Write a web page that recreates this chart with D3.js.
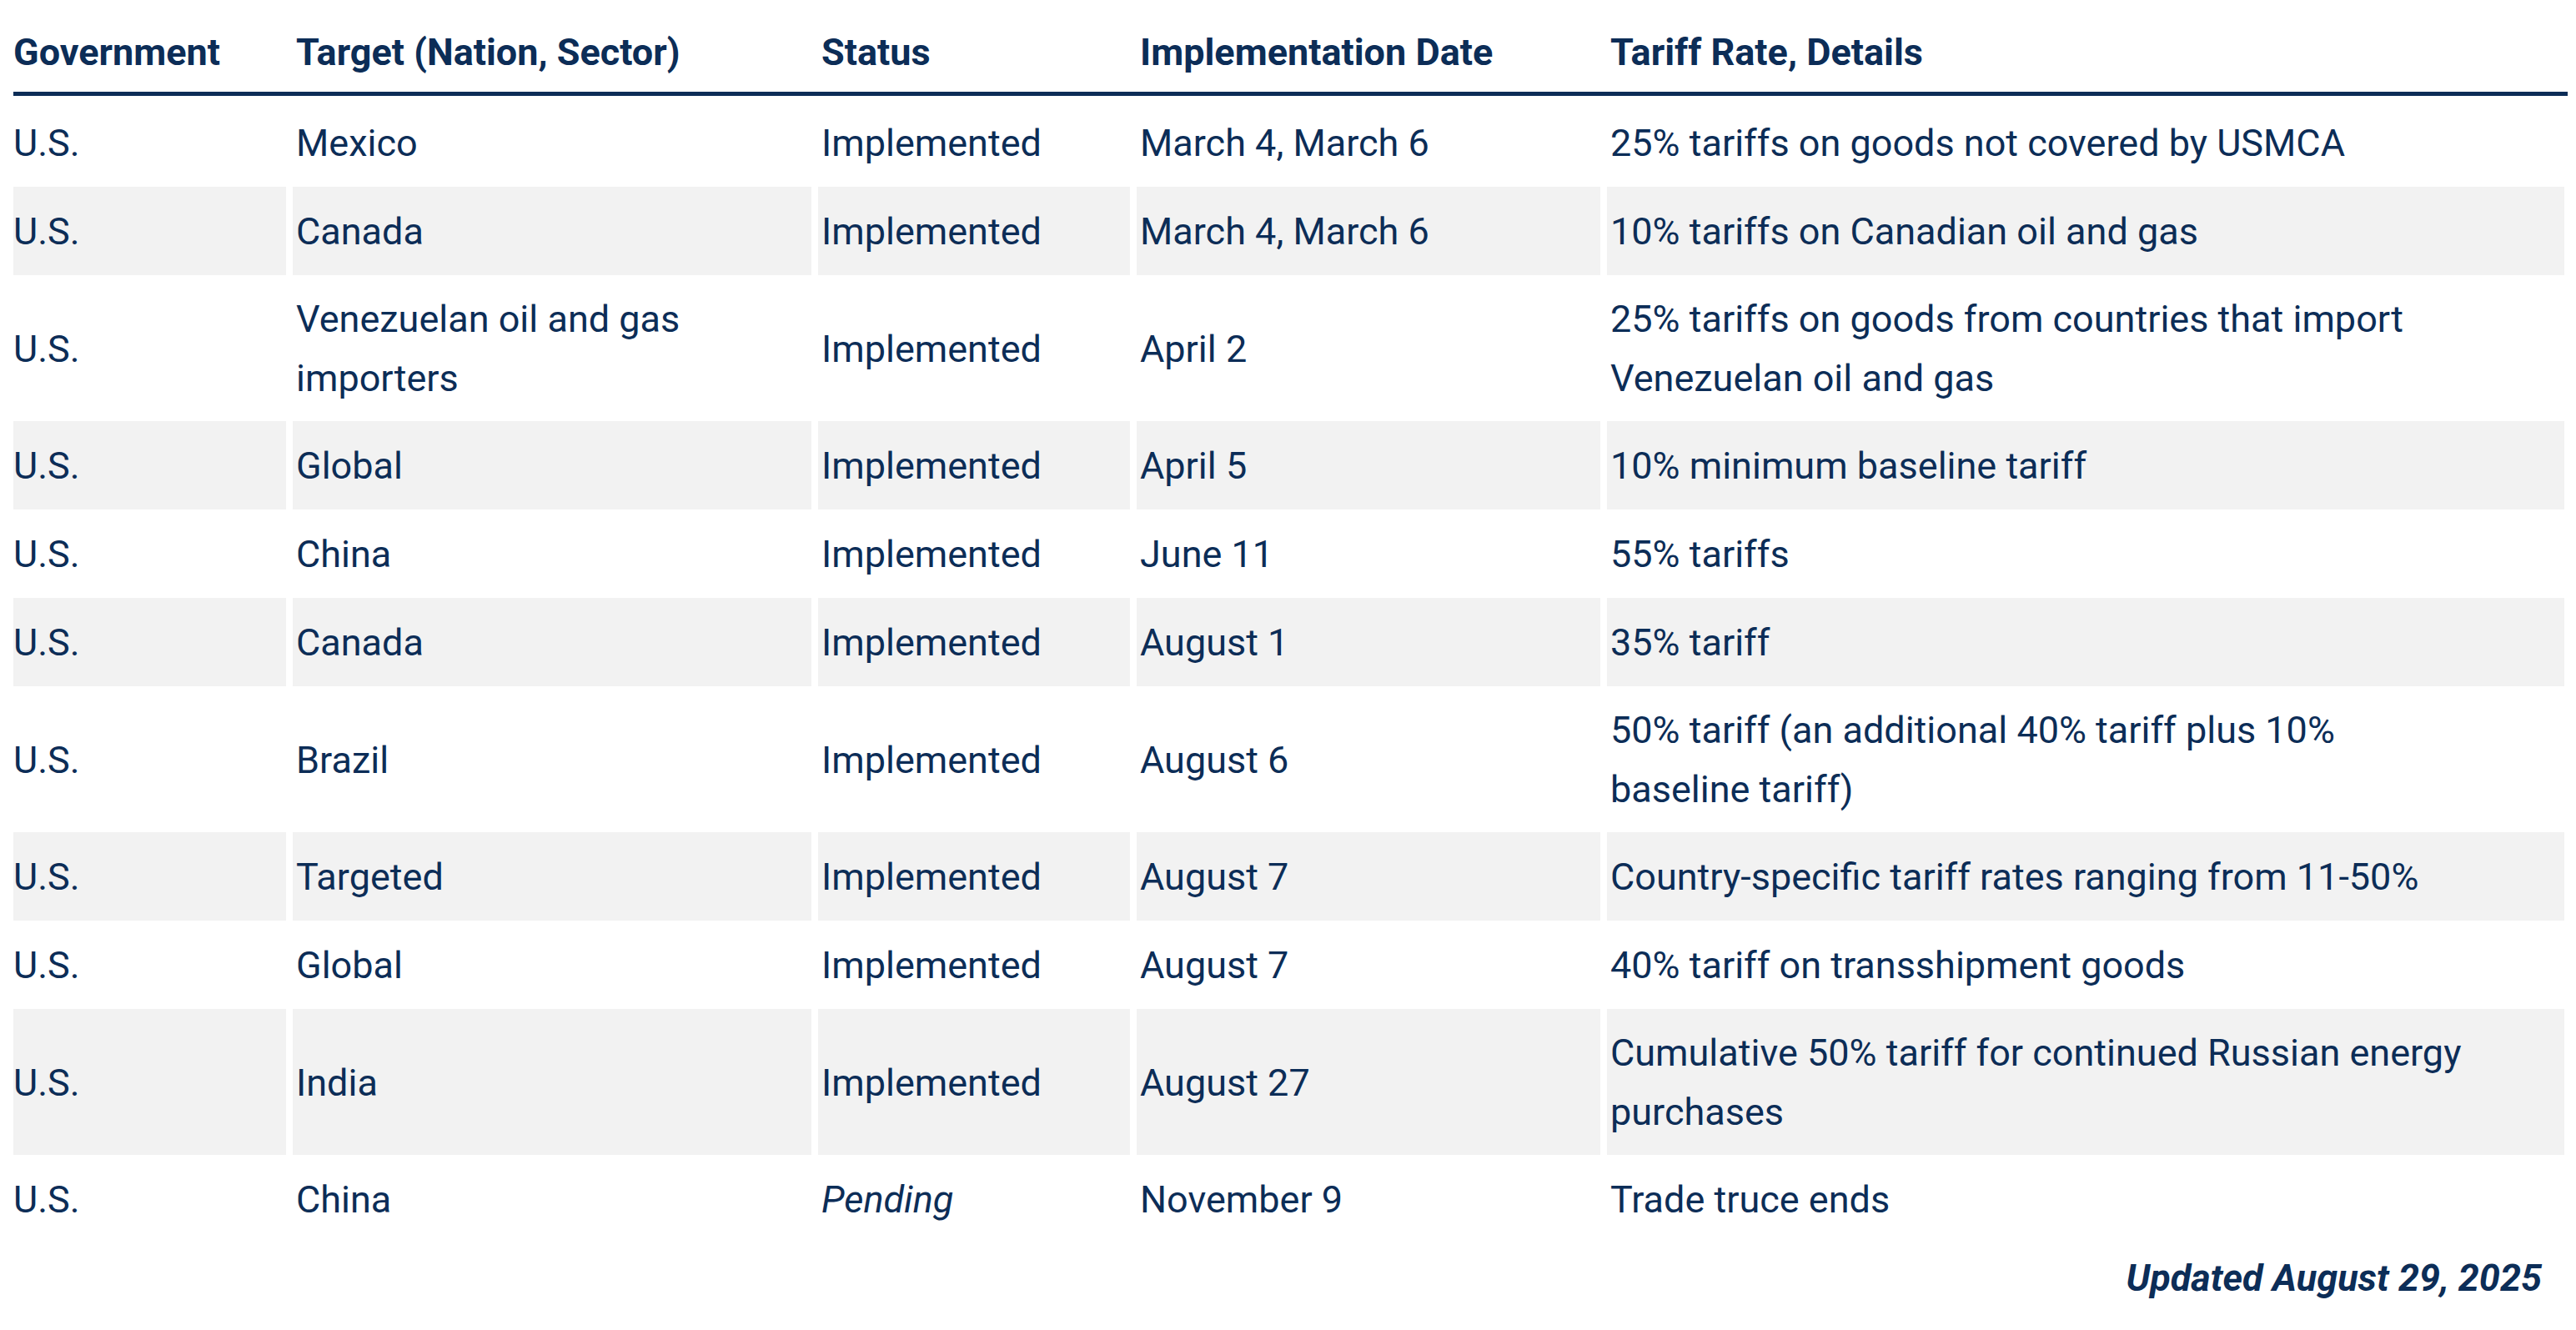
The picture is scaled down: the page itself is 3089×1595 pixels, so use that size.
<!DOCTYPE html>
<html>
<head>
<meta charset="utf-8">
<script src="https://cdn.jsdelivr.net/npm/d3@7"></script>
<style>
  body { margin: 0; background: #fff; }
  text { font-family: Roboto, "Noto Sans", sans-serif; }
</style>
</head>
<body>
<svg id="chart"></svg>
<script>
// table contents
var headers = ["Government", "Target (Nation, Sector)", "Status", "Implementation Date", "Tariff Rate, Details"];
var governments = ["U.S.", "U.S.", "U.S.", "U.S.", "U.S.", "U.S.", "U.S.", "U.S.", "U.S.", "U.S.", "U.S."];
var targets = [["Mexico"], ["Canada"], ["Venezuelan oil and gas", "importers"], ["Global"], ["China"], ["Canada"],
               ["Brazil"], ["Targeted"], ["Global"], ["India"], ["China"]];
var statuses = ["Implemented", "Implemented", "Implemented", "Implemented", "Implemented", "Implemented",
                "Implemented", "Implemented", "Implemented", "Implemented", "Pending"];
var dates = ["March 4, March 6", "March 4, March 6", "April 2", "April 5", "June 11", "August 1",
             "August 6", "August 7", "August 7", "August 27", "November 9"];
var details = [["25% tariffs on goods not covered by USMCA"],
               ["10% tariffs on Canadian oil and gas"],
               ["25% tariffs on goods from countries that import", "Venezuelan oil and gas"],
               ["10% minimum baseline tariff"],
               ["55% tariffs"],
               ["35% tariff"],
               ["50% tariff (an additional 40% tariff plus 10%", "baseline tariff)"],
               ["Country-specific tariff rates ranging from 11-50%"],
               ["40% tariff on transshipment goods"],
               ["Cumulative 50% tariff for continued Russian energy", "purchases"],
               ["Trade truce ends"]];
var footnote = "Updated August 29, 2025";

var W = 3089, H = 1595;
var navy = "#0c2d57";
var svg = d3.select("#chart").attr("width", W).attr("height", H);

var colEdges = [16, 347, 977, 1359, 1923, 3079];
var gap = 8;
var fontSize = 45;

// row layout from line counts
var rows = governments.map(function(g, i){
    var lines = Math.max(targets[i].length, details[i].length);
    return {
        cells: [[g], targets[i], [statuses[i]], [dates[i]], details[i]],
        lines: lines,
        italic: statuses[i] === "Pending"
    };
});
var y0 = 118;
rows.forEach(function(r){
    r.h = r.lines > 1 ? 175 : 106;
    r.y = y0;
    y0 += r.h;
});

// header
var hdr = svg.append("g");
hdr.selectAll("text").data(headers).enter().append("text")
    .attr("x", function(d, i){ return colEdges[i] + (i === 0 ? 0 : 8); })
    .attr("y", 78)
    .attr("fill", navy)
    .attr("font-size", fontSize)
    .attr("font-weight", 700)
    .text(function(d){ return d; });
svg.append("rect").attr("x", colEdges[0]).attr("y", 110).attr("width", colEdges[5] - colEdges[0]).attr("height", 5).attr("fill", navy);

var rowG = svg.selectAll("g.row").data(rows).enter().append("g")
    .attr("class", "row")
    .attr("transform", function(d){ return "translate(0," + d.y + ")"; });

rowG.each(function(r, ri){
    var g = d3.select(this);
    r.cells.forEach(function(lines, ci){
        var x0 = colEdges[ci] + (ci === 0 ? 0 : gap / 2);
        var x1 = colEdges[ci + 1] - gap / 2;
        if (ri % 2 === 1) {
            g.append("rect").attr("x", x0).attr("y", 0).attr("width", x1 - x0).attr("height", r.h).attr("fill", "#f2f2f2");
        }
        var lh = 71;
        var start = r.h / 2 - (lines.length - 1) * lh / 2 + fontSize * 0.36;
        lines.forEach(function(t, li){
            g.append("text")
                .attr("x", colEdges[ci] + (ci === 0 ? 0 : 8))
                .attr("y", start + li * lh)
                .attr("fill", navy)
                .attr("font-size", fontSize)
                .attr("font-style", (ci === 2 && r.italic) ? "italic" : "normal")
                .text(t);
        });
    });
});

svg.append("text")
    .attr("x", 3048).attr("y", 1548)
    .attr("text-anchor", "end")
    .attr("fill", navy)
    .attr("font-size", fontSize)
    .attr("font-weight", 700)
    .attr("font-style", "italic")
    .text(footnote);
</script>
</body>
</html>
